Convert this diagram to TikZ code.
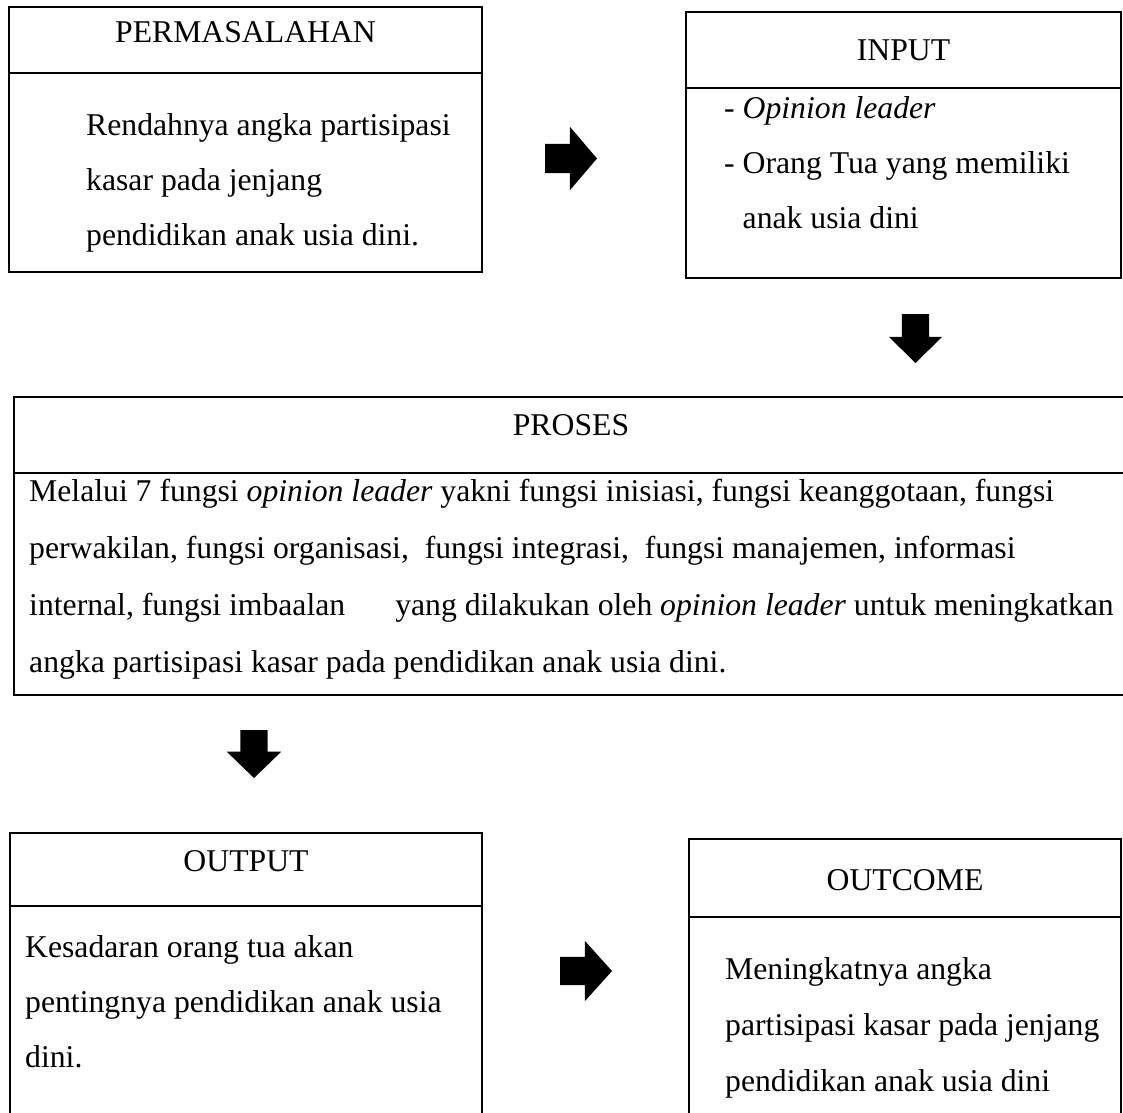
\documentclass[tikz,border=0pt]{standalone}
\usepackage{fontspec}
\setmainfont{Liberation Serif}
\usetikzlibrary{positioning,shapes.arrows}

\begin{document}
\begin{tikzpicture}[x=1pt, y=-1pt, every node/.style={font=\fontsize{31.7}{55}\selectfont}, hd/.style={draw, line width=2.8pt, inner sep=0pt, outer sep=0pt, anchor=north west}, bd/.style={draw, line width=2.8pt, inner sep=0pt, outer sep=0pt}, txt/.style={align=left, inner sep=0pt, anchor=base west}, blk/.style={single arrow, fill=black, outer sep=0pt, single arrow head indent=0pt, anchor=tail}]
\path[use as bounding box, clip] (0,0) rectangle (1123,1112);
% permasalahan
\node[hd, minimum width=473pt, text height=35pt, text depth=31pt] (pm) at (9,7) {PERMASALAHAN};
\node[bd, minimum width=473pt, minimum height=199pt, below=0pt of pm] (pmb) {};
\node[txt] (pmt) at (86,245) {Rendahnya angka partisipasi\\kasar pada jenjang\\pendidikan anak usia dini.};
% input
\node[hd, minimum width=435pt, text height=48pt, text depth=28pt] (ip) at (686,12) {INPUT};
\node[bd, minimum width=435pt, minimum height=190pt, below=0pt of ip] (ipb) {};
\node[txt] (ipt) at (724,228) {-~\textit{Opinion leader}\\-~Orang Tua yang memiliki\\\phantom{-~}anak usia dini};
% proses
\node[hd, minimum width=1114pt, text height=38pt, text depth=38pt] (ps) at (14,397) {PROSES};
\node[bd, minimum width=1114pt, minimum height=222pt, below=0pt of ps] (psb) {};
\node[txt, font=\fontsize{31.7}{57}\selectfont] (pst) at (29,672) {Melalui 7 fungsi \textit{opinion leader} yakni fungsi inisiasi, fungsi keanggotaan, fungsi\\perwakilan, fungsi organisasi,\ \ fungsi integrasi,\ \ fungsi manajemen, informasi\\internal, fungsi imbaalan\hspace{50pt}yang dilakukan oleh \textit{opinion leader} untuk meningkatkan\\angka partisipasi kasar pada pendidikan anak usia dini.};
% output
\node[hd, minimum width=472pt, text height=38pt, text depth=35pt] (op) at (10,833) {OUTPUT};
\node[bd, minimum width=472pt, minimum height=214pt, below=0pt of op] (opb) {};
\node[txt] (opt) at (25,1067) {Kesadaran orang tua akan\\pentingnya pendidikan anak usia\\dini.};
% outcome
\node[hd, minimum width=432pt, text height=51pt, text depth=27pt] (oc) at (689,839) {OUTCOME};
\node[bd, minimum width=432pt, minimum height=203pt, below=0pt of oc] (ocb) {};
\node[txt, font=\fontsize{31.7}{56}\selectfont] (oct) at (725,1091) {Meningkatnya angka\\partisipasi kasar pada jenjang\\pendidikan anak usia dini};
% panah
\node[blk, inner sep=14.5pt, minimum height=52pt, single arrow head extend=17pt, single arrow tip angle=99] (a1) at (545,158.5) {};
\node[blk, shape border rotate=270, inner sep=13.5pt, minimum height=49pt, single arrow head extend=13pt, single arrow tip angle=91] (a2) at (915.5,314) {};
\node[blk, shape border rotate=270, inner sep=13.5pt, minimum height=48pt, single arrow head extend=13.5pt, single arrow tip angle=92] (a3) at (254,730) {};
\node[blk, inner sep=14pt, minimum height=52pt, single arrow head extend=16pt, single arrow tip angle=96] (a4) at (560,971) {};
\end{tikzpicture}
\end{document}
